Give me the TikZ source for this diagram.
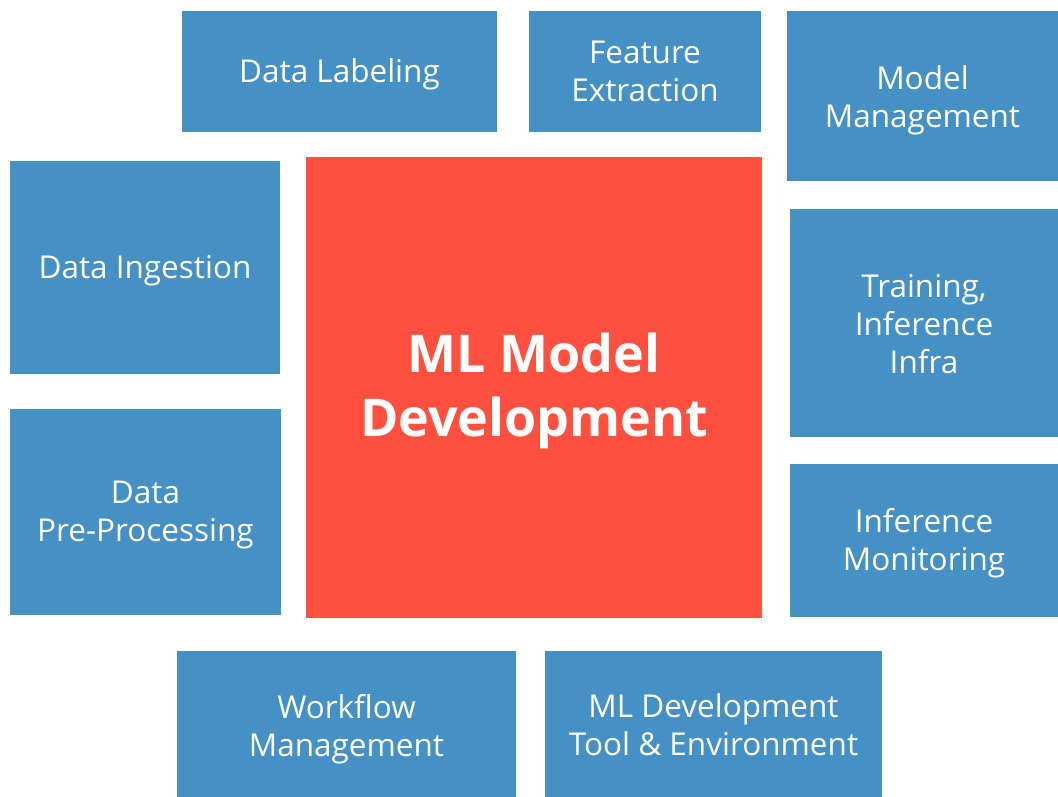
\documentclass[tikz,border=0pt]{standalone}
\usepackage{fontspec}
\setmainfont{Open Sans}
\definecolor{boxblue}{RGB}{69,144,196}
\definecolor{boxred}{RGB}{255,79,62}
\begin{document}
\begin{tikzpicture}[x=1bp,y=-1bp,
  blk/.style={fill=boxblue, draw=none, inner sep=0pt},
  core/.style={fill=boxred, draw=none, inner sep=0pt},
  txt/.style={text=white, align=center, inner sep=0pt,
    font=\fontsize{31.5bp}{38bp}\selectfont},
  bigtxt/.style={text=white, align=center, inner sep=0pt,
    font=\bfseries\fontsize{52bp}{64bp}\selectfont}]
\useasboundingbox (0,0) rectangle (1058,797);
\node[blk, minimum width=315bp, minimum height=120bp] (label) at (339.5,71.5) {};
\node[blk, minimum width=232bp, minimum height=120bp] (feat) at (645,71.5) {};
\node[blk, minimum width=271bp, minimum height=169bp] (mgmt) at (922.5,96) {};
\node[blk, minimum width=270bp, minimum height=213bp] (ingest) at (145,267.5) {};
\node[core, minimum width=456bp, minimum height=461bp] (core) at (534,387.5) {};
\node[blk, minimum width=268bp, minimum height=228bp] (infra) at (924,323) {};
\node[blk, minimum width=271bp, minimum height=206bp] (prep) at (145.5,512) {};
\node[blk, minimum width=268bp, minimum height=153bp] (mon) at (924,540.5) {};
\node[blk, minimum width=339bp, minimum height=146bp] (wf) at (346.5,724) {};
\node[blk, minimum width=337bp, minimum height=146bp] (tool) at (713.5,724) {};
\node[txt] (labelT) at ([yshift=-3bp]label.center) {Data Labeling};
\node[txt] (featT) at (feat.center) {Feature\\Extraction};
\node[txt] (mgmtT) at ([yshift=-4bp]mgmt.center) {Model\\Management};
\node[txt] (ingestT) at ([yshift=-3bp]ingest.center) {Data Ingestion};
\node[bigtxt] (coreT) at ([yshift=-3bp]core.center) {ML Model\\Development};
\node[txt] (infraT) at ([yshift=-1bp]infra.center) {Training,\\Inference\\Infra};
\node[txt] (prepT) at ([yshift=-3bp]prep.center) {Data\\Pre-Processing};
\node[txt] (monT) at ([yshift=-3bp]mon.center) {Inference\\Monitoring};
\node[txt] (wfT) at ([yshift=-5bp]wf.center) {Workflow\\Management};
\node[txt] (toolT) at ([yshift=-1bp]tool.center) {ML Development\\Tool \& Environment};
\end{tikzpicture}
\end{document}
